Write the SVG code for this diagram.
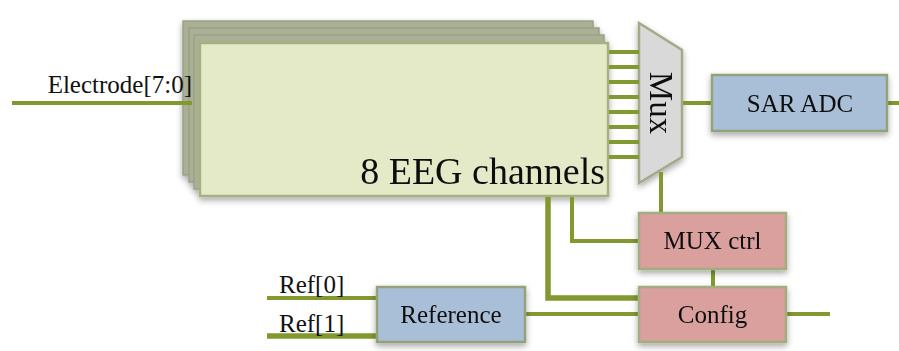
<svg xmlns="http://www.w3.org/2000/svg" width="899" height="351" viewBox="0 0 899 351">
  <defs>
    <filter id="sh" x="-20%" y="-20%" width="140%" height="150%">
      <feDropShadow dx="0" dy="3" stdDeviation="3" flood-color="#000" flood-opacity="0.35"/>
    </filter>
  </defs>
  <style>
    .w { stroke: #81992f; stroke-width: 4; fill: none; }
    .wt { stroke: #81992f; stroke-width: 5.5; fill: none; }
    .t { font-family: "Liberation Serif", "Times New Roman", serif; font-size: 25px; fill: #111; }
    .blue { fill: #a9bfd7; stroke: #94a27a; stroke-width: 2.5; }
    .red { fill: #d9a09d; stroke: #a3ad7f; stroke-width: 2.5; }
    .layer { fill: #a9b096; stroke: #9aa184; stroke-width: 1.5; }
    .front { fill: #e4eac8; stroke: #a6b081; stroke-width: 2.5; }
  </style>
  <rect width="899" height="351" fill="#fff"/>

  <g id="eeg-channels" filter="url(#sh)">
    <rect class="layer" x="183" y="21" width="410" height="154"/>
    <rect class="layer" x="189" y="28" width="410" height="154"/>
    <rect class="layer" x="194" y="35" width="410" height="154"/>
    <rect class="front" x="200" y="43" width="408" height="153"/>
    <text class="t" x="605" y="184" text-anchor="end" style="font-size:38px">8 EEG channels</text>
  </g>

  <g id="mux" filter="url(#sh)">
    <polygon points="639,23 682,50 682,157 639,183" fill="#d9d9d9" stroke="#a2aa86" stroke-width="2.5"/>
    <text class="t" transform="translate(650,103) rotate(90)" text-anchor="middle" style="font-size:33px">Mux</text>
  </g>

  <g id="connectors">
    <line class="w" x1="12" y1="103" x2="192" y2="103"/>
    <g>
      <line class="w" x1="609" y1="52" x2="639" y2="52"/>
      <line class="w" x1="609" y1="67" x2="639" y2="67"/>
      <line class="w" x1="609" y1="82" x2="639" y2="82"/>
      <line class="w" x1="609" y1="97" x2="639" y2="97"/>
      <line class="w" x1="609" y1="112" x2="639" y2="112"/>
      <line class="w" x1="609" y1="127" x2="639" y2="127"/>
      <line class="w" x1="609" y1="142" x2="639" y2="142"/>
      <line class="w" x1="609" y1="157" x2="639" y2="157"/>
    </g>
    <line class="w" x1="683" y1="103" x2="714" y2="103"/>
    <line class="w" x1="886" y1="103" x2="899" y2="103"/>
    <line class="w" x1="661" y1="172" x2="661" y2="214"/>
    <polyline class="wt" points="548,197 548,298 641,298"/>
    <polyline class="w" points="572,197 572,241 641,241"/>
    <line class="w" x1="713" y1="268" x2="713" y2="288"/>
    <line class="w" x1="523" y1="314" x2="641" y2="314"/>
    <line class="w" x1="785" y1="314" x2="830" y2="314"/>
    <line class="w" x1="267" y1="298" x2="378" y2="298"/>
    <line class="wt" x1="267" y1="336" x2="378" y2="336"/>
  </g>

  <g id="electrode-label">
    <text class="t" x="192" y="93" text-anchor="end">Electrode[7:0]</text>
  </g>

  <g id="sar-adc" filter="url(#sh)">
    <rect class="blue" x="712" y="75" width="175" height="56"/>
    <text class="t" x="800" y="112" text-anchor="middle">SAR ADC</text>
  </g>

  <g id="mux-ctrl" filter="url(#sh)">
    <rect class="red" x="639" y="213" width="147" height="56"/>
    <text class="t" x="712.5" y="249" text-anchor="middle">MUX ctrl</text>
  </g>

  <g id="config" filter="url(#sh)">
    <rect class="red" x="639" y="287" width="147" height="55"/>
    <text class="t" x="712.5" y="323" text-anchor="middle">Config</text>
  </g>

  <g id="reference" filter="url(#sh)">
    <rect class="blue" x="377" y="287" width="148" height="55"/>
    <text class="t" x="451" y="323" text-anchor="middle">Reference</text>
  </g>

  <g id="ref-labels">
    <text class="t" x="279" y="293">Ref[0]</text>
    <text class="t" x="279" y="332">Ref[1]</text>
  </g>
</svg>
